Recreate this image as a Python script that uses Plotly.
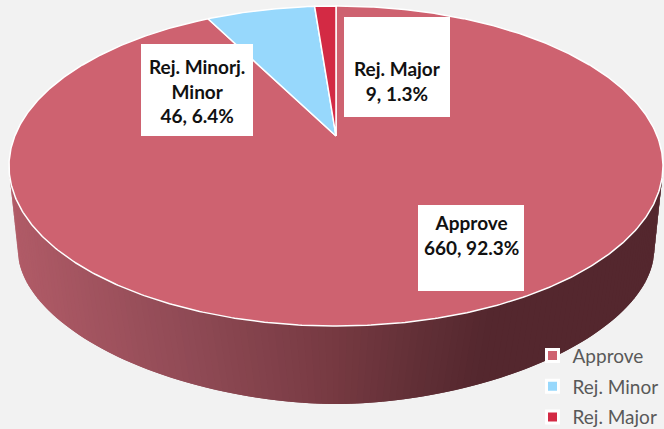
import numpy as np
import plotly.graph_objects as go

# Data
categories = ["Approve", "Rej. Minor", "Rej. Major"]
values = [660, 46, 9]
shares = ["92.3%", "6.4%", "1.3%"]
label_titles = ["Approve", "Rej. Minorj.<br>Minor", "Rej. Major"]
top_colors = ["#CE6270", "#97D8FC", "#D32A44"]

# Projection of the tilted disc (px)
CX, CY = 336.0, 136.0
A, B, K = 154.4, 321.2, 0.1875
WALL_CX, WALL_CY, WALL_RX, WALL_RY, WALL_P = 336.0, 252.0, 318.0, 152.0, 1.85
RIM_CY, RIM_RX, RIM_RY = 166.0, 327.0, 160.0

def project(deg):
    t = np.radians(deg)
    u, v = np.sin(t), np.cos(t)
    d = 1 + K * v
    return CX + B * u / d, CY - A * v / d

fig = go.Figure()

# Side wall, shaded along x
stops_x = [9, 200, 336, 420, 490, 664]
stops_rgb = np.array([[178, 92, 104], [143, 74, 85], [119, 58, 66], [98, 48, 55], [84, 39, 46], [84, 39, 46]], float)
thetas = np.linspace(np.pi, 0, 140)
for i in range(len(thetas) - 1):
    th = np.linspace(thetas[i], thetas[min(i + 2, len(thetas) - 1)], 4)
    xt = 336 + RIM_RX * np.cos(th)
    yt = RIM_CY + (RIM_RY - 3) * np.sin(th)
    c, s = np.cos(th), np.clip(np.sin(th), 0, 1)
    xb = WALL_CX + WALL_RX * np.sign(c) * np.abs(c) ** (2 / WALL_P)
    yb = WALL_CY + WALL_RY * s ** (2 / WALL_P)
    mx = 0.5 * (xt.mean() + xb.mean())
    rgb = [np.interp(mx, stops_x, stops_rgb[:, k]) for k in range(3)]
    col = "rgb(%d,%d,%d)" % tuple(rgb)
    fig.add_trace(go.Scatter(
        x=np.r_[xt, xb[::-1], xt[0]], y=np.r_[yt, yb[::-1], yt[0]],
        mode="lines", fill="toself", fillcolor=col, line=dict(width=0),
        hoverinfo="skip", showlegend=False))

# Top face, one wedge per category
total = sum(values)
start = 0.0
for name, val, col in zip(categories, values, top_colors):
    sweep = 360.0 * val / total
    ang = np.linspace(start, start + sweep, max(int(sweep * 2), 8))
    px, py = project(ang)
    fig.add_trace(go.Scatter(
        x=np.r_[CX, px, CX], y=np.r_[CY, py, CY],
        mode="lines", fill="toself", fillcolor=col,
        line=dict(color="white", width=1.5),
        hoverinfo="skip", showlegend=False))
    start += sweep

# Legend entries
for name, col in zip(categories, top_colors):
    fig.add_trace(go.Scatter(
        x=[None], y=[None], mode="markers", name=name, legendgroup=name,
        marker=dict(symbol="square", size=12, color=col, line=dict(color="white", width=3))))

# Data labels
boxes = [(418, 205, 524, 291), (141, 44, 253, 136), (344, 17, 450, 117)]
label_y = [235, 91, 81]
for title, val, share, (x0, y0, x1, y1), ly in zip(label_titles, values, shares, boxes, label_y):
    fig.add_shape(type="rect", x0=x0, y0=y0, x1=x1, y1=y1, fillcolor="white", line_width=0, layer="above")
    fig.add_annotation(x=(x0 + x1) / 2, y=ly, text=f"<b>{title}<br>{val}, {share}</b>", showarrow=False,
                       font=dict(family="Lato", size=19, color="#111111"), align="center")

fig.update_layout(
    width=664, height=429, margin=dict(l=0, r=0, t=0, b=0, autoexpand=False),
    paper_bgcolor="#F2F2F2", plot_bgcolor="#F2F2F2",
    xaxis=dict(range=[0, 664], visible=False, fixedrange=True),
    yaxis=dict(range=[429, 0], visible=False, fixedrange=True),
    showlegend=True,
    legend=dict(x=0.802, y=-0.018, xanchor="left", yanchor="bottom", bgcolor="rgba(0,0,0,0)",
                font=dict(family="Lato", size=19, color="#595959"),
                traceorder="grouped", tracegroupgap=3),
)
fig.write_html("out.html", config=dict(displayModeBar=False),
               post_script="document.body.style.margin='0';document.body.style.overflow='hidden';")
